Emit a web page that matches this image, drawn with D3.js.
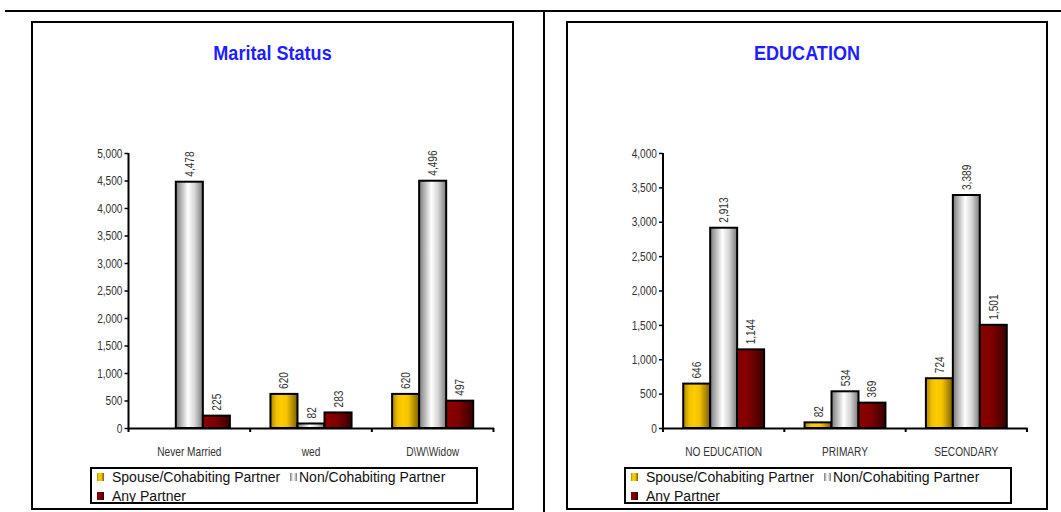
<!DOCTYPE html>
<html>
<head>
<meta charset="utf-8">
<script src="https://cdn.jsdelivr.net/npm/d3@7/dist/d3.min.js"></script>
<style>
  body { margin: 0; background: #fff; }
  svg { display: block; }
  .narrow { font-family: "Liberation Sans", Arial, sans-serif; }
</style>
</head>
<body>
<svg id="chart" width="1061" height="512"></svg>
<script>
// ---------- DATA ----------
const seriesNames = ["Spouse/Cohabiting Partner", "Non/Cohabiting Partner", "Any Partner"];

const maritalTitle = "Marital Status";
const maritalCategories = ["Never Married", "wed", "D\\W\\Widow"];
const maritalSpouse = [null, 620, 620];
const maritalNon = [4478, 82, 4496];
const maritalAny = [225, 283, 497];
const maritalTicks = [0, 500, 1000, 1500, 2000, 2500, 3000, 3500, 4000, 4500, 5000];

const eduTitle = "EDUCATION";
const eduCategories = ["NO EDUCATION", "PRIMARY", "SECONDARY"];
const eduSpouse = [646, 82, 724];
const eduNon = [2913, 534, 3389];
const eduAny = [1144, 369, 1501];
const eduTicks = [0, 500, 1000, 1500, 2000, 2500, 3000, 3500, 4000];

// ---------- SETUP ----------
const svg = d3.select("#chart");
const defs = svg.append("defs");
const fmt = d3.format(",");
const NARROW = 0.78; // emulate a condensed face
const LABEL_SIZE = 13;

function grad(id, stops) {
  const g = defs.append("linearGradient").attr("id", id)
    .attr("x1", "0%").attr("x2", "100%").attr("y1", "0%").attr("y2", "0%");
  stops.forEach(s => g.append("stop").attr("offset", s[0]).attr("stop-color", s[1]));
}
grad("gYellow", [[0, "#a88400"], [0.22, "#f2c200"], [0.4, "#ffcc00"], [0.6, "#f5c400"], [1, "#7a6000"]]);
grad("gGrey", [[0, "#7a7a7a"], [0.2, "#b5b5b5"], [0.45, "#ffffff"], [0.7, "#d5d5d5"], [1, "#7a7a7a"]]);
grad("gRed", [[0, "#8c0000"], [0.45, "#800000"], [1, "#380000"]]);
const fills = ["url(#gYellow)", "url(#gGrey)", "url(#gRed)"];

// page frame lines
svg.append("line").attr("x1", 5).attr("x2", 1061).attr("y1", 11).attr("y2", 11)
  .attr("stroke", "#000").attr("stroke-width", 2);
svg.append("line").attr("x1", 544).attr("x2", 544).attr("y1", 11).attr("y2", 512)
  .attr("stroke", "#000").attr("stroke-width", 2);

function drawPanel(p) {
  const g = svg.append("g");
  // outer box
  g.append("rect").attr("x", p.box[0]).attr("y", p.box[1])
    .attr("width", p.box[2] - p.box[0]).attr("height", p.box[3] - p.box[1])
    .attr("fill", "#fff").attr("stroke", "#000").attr("stroke-width", 2);
  // title
  const cx = (p.box[0] + p.box[2]) / 2;
  g.append("text").attr("class", "narrow")
    .attr("transform", `translate(${cx},60) scale(0.86,1)`)
    .attr("text-anchor", "middle").attr("font-size", 21).attr("font-weight", "bold")
    .attr("fill", "#1e1eff").text(p.title);

  const rows = p.categories.map((c, i) => ({ cat: c, vals: [p.spouse[i], p.non[i], p.any[i]] }));

  const x0 = d3.scaleBand().domain(p.categories).range([p.x0, p.x1]).padding(0);
  const x1 = d3.scaleBand().domain(seriesNames).range([0, x0.bandwidth()])
    .paddingInner(0).paddingOuter(0.75);
  const y = d3.scaleLinear().domain([0, p.ymax]).range([428, 153]);

  // bars
  const grp = g.selectAll("g.cat").data(rows).join("g")
    .attr("transform", d => `translate(${x0(d.cat)},0)`);
  grp.selectAll("rect").data(d => d.vals.map((v, i) => ({ v, i })).filter(e => e.v != null))
    .join("rect")
    .attr("x", e => x1(seriesNames[e.i]))
    .attr("width", x1.bandwidth())
    .attr("y", e => y(e.v))
    .attr("height", e => y(0) - y(e.v))
    .attr("fill", e => fills[e.i])
    .attr("stroke", "#000").attr("stroke-width", 2);
  // value labels
  grp.selectAll("text").data(d => d.vals.map((v, i) => ({ v, i })).filter(e => e.v != null))
    .join("text").attr("class", "narrow")
    .attr("transform", e => `translate(${x1(seriesNames[e.i]) + x1.bandwidth() / 2 + 4.5},${y(e.v) - 5}) rotate(-90) scale(${NARROW},1)`)
    .attr("font-size", LABEL_SIZE).attr("fill", "#333").text(e => fmt(e.v));

  // y axis
  const ya = g.append("g").attr("transform", `translate(${p.x0},0)`)
    .call(d3.axisLeft(y).tickValues(p.ticks).tickFormat(fmt).tickSize(4).tickSizeOuter(0));
  ya.select(".domain").attr("stroke", "#000").attr("stroke-width", 2).attr("d", `M0,${y(0) + 4}V${y(p.ymax)}`);
  ya.selectAll(".tick line").attr("stroke", "#000").attr("stroke-width", 1.5);
  ya.selectAll(".tick text").attr("class", "narrow").attr("font-size", LABEL_SIZE).attr("fill", "#333")
    .attr("x", 0).attr("transform", `translate(-6,0) scale(${NARROW},1)`);

  // x axis
  const xa = g.append("g").attr("transform", `translate(0,${y(0)})`)
    .call(d3.axisBottom(x0).tickSize(0).tickSizeOuter(0));
  xa.select(".domain").attr("stroke", "#000").attr("stroke-width", 2);
  xa.selectAll(".tick text").attr("class", "narrow").attr("font-size", LABEL_SIZE).attr("fill", "#333")
    .attr("y", 19).attr("transform", `scale(${NARROW},1)`);
  // boundary ticks
  const bounds = p.categories.map(c => x0(c)).concat([p.x1]).slice(1);
  xa.selectAll("line.bt").data(bounds).join("line").attr("class", "bt")
    .attr("x1", d => d).attr("x2", d => d).attr("y1", 0).attr("y2", 4)
    .attr("stroke", "#000").attr("stroke-width", 2);

  // legend
  const L = p.legend;
  g.append("rect").attr("x", L[0]).attr("y", 468).attr("width", L[1] - L[0]).attr("height", 35)
    .attr("fill", "#fff").attr("stroke", "#000").attr("stroke-width", 2);
  const items = [
    { name: seriesNames[0], mx: L[0] + 6, tx: L[0] + 21, y: 477 },
    { name: seriesNames[1], mx: L[0] + 199, tx: L[0] + 208, y: 477 },
    { name: seriesNames[2], mx: L[0] + 6, tx: L[0] + 21, y: 496 }
  ];
  items.forEach((it, i) => {
    g.append("rect").attr("x", it.mx).attr("y", it.y - 4).attr("width", 7).attr("height", 8)
      .attr("fill", fills[i]);
    g.append("text").attr("x", it.tx).attr("y", it.y + 5)
      .attr("font-family", "'Liberation Sans', Arial, sans-serif").attr("font-size", 14)
      .attr("fill", "#111").text(it.name);
  });
}

drawPanel({
  box: [32, 22, 513, 509], title: maritalTitle, categories: maritalCategories,
  spouse: maritalSpouse, non: maritalNon, any: maritalAny, ticks: maritalTicks, ymax: 5000,
  x0: 128.5, x1: 493.5, legend: [91, 477]
});
drawPanel({
  box: [567, 22, 1047, 509], title: eduTitle, categories: eduCategories,
  spouse: eduSpouse, non: eduNon, any: eduAny, ticks: eduTicks, ymax: 4000,
  x0: 663, x1: 1027, legend: [625, 1011]
});
</script>
</body>
</html>
